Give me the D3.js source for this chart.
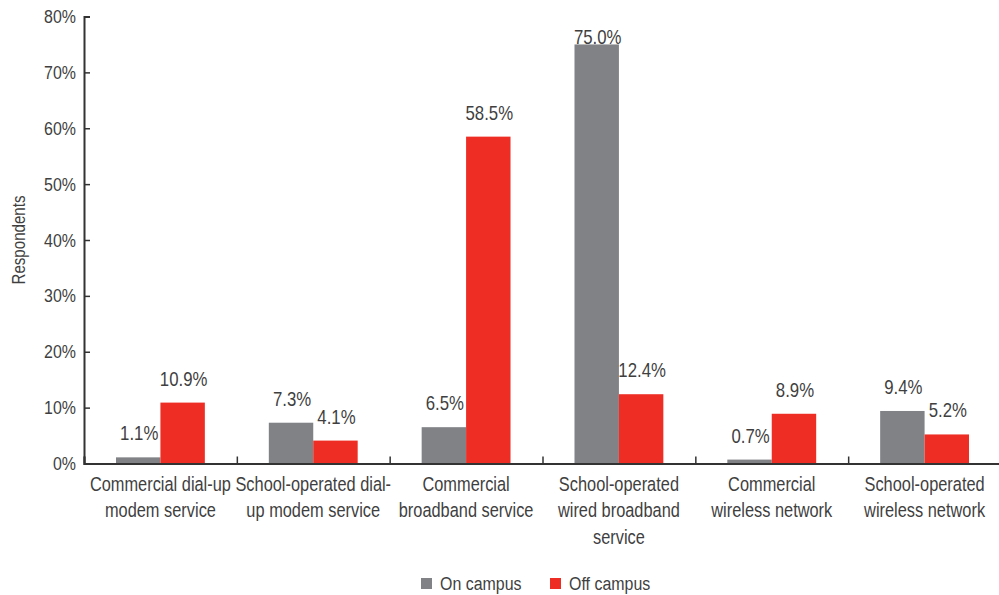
<!DOCTYPE html>
<html>
<head>
<meta charset="utf-8">
<script src="https://cdn.jsdelivr.net/npm/d3@7"></script>
<style>
  html, body { margin: 0; padding: 0; background: #fff; }
  svg { display: block; font-family: "Liberation Sans", Arial, sans-serif; }
</style>
</head>
<body>
<svg id="chart" width="999" height="595"></svg>
<script>
// Internet access type by location
const categories = [
  ["Commercial dial-up", "modem service"],
  ["School-operated dial-", "up modem service"],
  ["Commercial", "broadband service"],
  ["School-operated", "wired broadband", "service"],
  ["Commercial", "wireless network"],
  ["School-operated", "wireless network"]
];
const seriesNames = ["On campus", "Off campus"];
const onCampus  = [1.1, 7.3, 6.5, 75.0, 0.7, 9.4];
const offCampus = [10.9, 4.1, 58.5, 12.4, 8.9, 5.2];
const yTicks = [0, 10, 20, 30, 40, 50, 60, 70, 80];
const colors = ["#818286", "#ee2e24"];

const svg = d3.select("#chart");
const textColor = "#3f3f3f";
const narrow = 0.84; // horizontal squeeze for a condensed look
const margin = { left: 84, right: -2, top: 16.5, bottom: 131.5 };
const W = 999, H = 595;
const plotBottom = H - margin.bottom;

const x0 = d3.scaleBand()
  .domain(d3.range(categories.length))
  .range([margin.left, W - margin.right])
  .paddingInner(0)
  .paddingOuter(0);

const x1 = d3.scaleBand()
  .domain([0, 1])
  .range([0, x0.bandwidth()])
  .paddingInner(0)
  .paddingOuter(0.72);

const y = d3.scaleLinear().domain([0, 80]).range([plotBottom, margin.top]);

const rows = categories.map((c, i) => ({ i, values: [onCampus[i], offCampus[i]] }));

// bars
const groups = svg.append("g").selectAll("g").data(rows).join("g")
  .attr("transform", d => `translate(${x0(d.i)},0)`);

groups.selectAll("rect").data(d => d.values.map((v, s) => ({ v, s })))
  .join("rect")
  .attr("x", d => x1(d.s))
  .attr("width", x1.bandwidth())
  .attr("y", d => y(d.v))
  .attr("height", d => plotBottom - y(d.v))
  .attr("fill", d => colors[d.s]);

// value labels
groups.selectAll("text").data(d => d.values.map((v, s) => ({ v, s })))
  .join("text")
  .attr("transform", d => {
    const lx = x1(d.s) + x1.bandwidth() / 2 + 1;
    const ly = Math.max(y(d.v) - 17, margin.top + 27);
    return `translate(${lx},${ly}) scale(${narrow},1)`;
  })
  .attr("text-anchor", "middle")
  .attr("font-size", 20)
  .attr("fill", textColor)
  .text(d => d.v.toFixed(1) + "%");

// y axis
const yAxis = d3.axisLeft(y).tickValues(yTicks).tickSize(-6).tickPadding(8)
  .tickFormat(d => d + "%");
const gy = svg.append("g").attr("transform", `translate(${margin.left},0)`).call(yAxis);
gy.attr("font-family", null);
gy.select(".domain").attr("stroke", "#333").attr("stroke-width", 2);
gy.selectAll(".tick line").attr("stroke", "#333").attr("stroke-width", 1.5);
gy.selectAll(".tick text")
  .attr("font-size", 19).attr("fill", textColor)
  .attr("x", -8 / narrow)
  .attr("transform", `scale(${narrow},1)`);

// x axis with category boundary ticks
const boundaries = d3.range(categories.length + 1).map(i => margin.left + i * x0.step());
const xb = d3.scaleLinear().domain([margin.left, W - margin.right]).range([margin.left, W - margin.right]);
const gx = svg.append("g").attr("transform", `translate(0,${plotBottom})`)
  .call(d3.axisBottom(xb).tickValues(boundaries).tickSize(-7).tickFormat(""));
gx.select(".domain").attr("stroke", "#333").attr("stroke-width", 2);
gx.selectAll(".tick line").attr("stroke", "#333").attr("stroke-width", 1.5);

// category labels
const catLabels = svg.append("g").selectAll("text").data(rows).join("text")
  .attr("text-anchor", "middle")
  .attr("font-size", 19.5)
  .attr("fill", textColor)
  .attr("transform", d => `translate(${x0(d.i) + x0.bandwidth() / 2},${plotBottom + 27}) scale(${narrow},1)`);
catLabels.selectAll("tspan").data(d => categories[d.i]).join("tspan")
  .attr("x", 0)
  .attr("y", (d, k) => k * 27)
  .text(d => d);

// y title
svg.append("text")
  .attr("transform", `translate(25,${(margin.top + plotBottom) / 2}) rotate(-90) scale(${narrow},1)`)
  .attr("text-anchor", "middle")
  .attr("font-size", 18)
  .attr("fill", textColor)
  .text("Respondents");

// legend
const legendX = [421, 550];
const legend = svg.append("g").selectAll("g").data(seriesNames).join("g")
  .attr("transform", (d, i) => `translate(${legendX[i]},578)`);
legend.append("rect").attr("width", 11).attr("height", 11).attr("fill", (d, i) => colors[i]);
legend.append("text")
  .attr("transform", `translate(19,12) scale(${narrow},1)`)
  .attr("font-size", 19).attr("fill", textColor).text(d => d);
</script>
</body>
</html>
